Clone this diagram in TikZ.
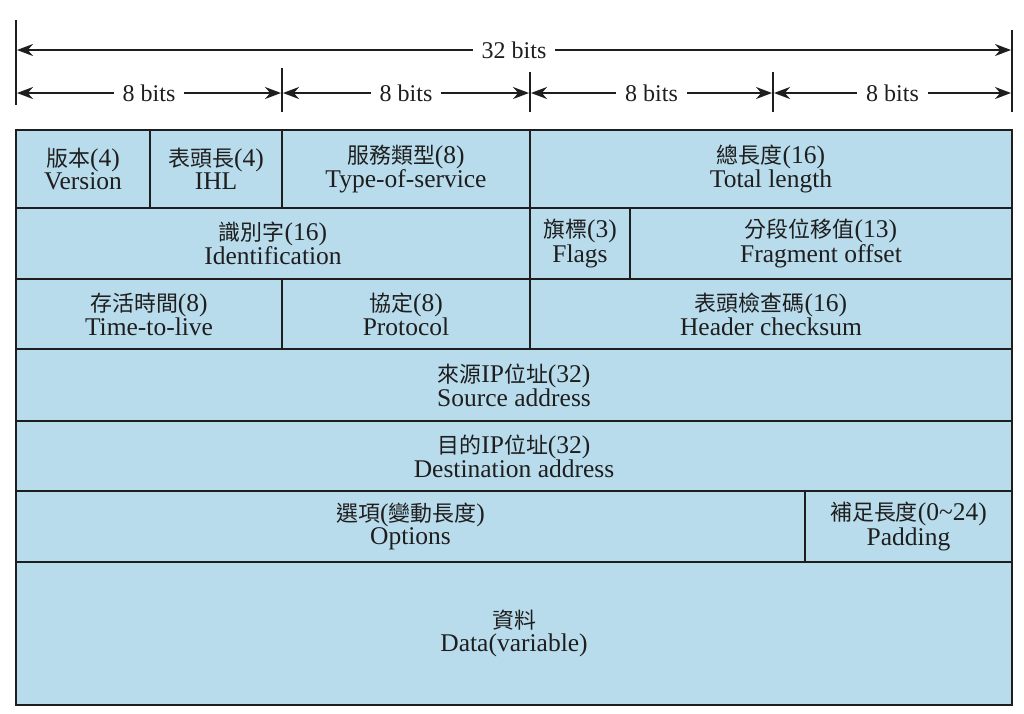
\documentclass[tikz,border=0pt]{standalone}
\usepackage{fontspec}
\setmainfont{Liberation Serif}
\newfontfamily\cjk{Noto Sans CJK TC}[Scale=0.86]
\usetikzlibrary{arrows.meta}
\definecolor{cellblue}{HTML}{B9DCEC}
\definecolor{ink}{HTML}{1E1E1E}
\newcommand{\zh}[1]{{\cjk #1}}
\begin{document}
\begin{tikzpicture}[x=1pt,y=-1pt,
  cell/.style={draw=ink, line width=2.2pt, fill=cellblue, inner sep=0pt, align=center, text=ink, font=\fontsize{25.5}{23}\selectfont},
  tickline/.style={draw=ink, line width=2pt},
  dim/.style={draw=ink, line width=2pt, {Stealth[length=16pt,width=12pt]}-{Stealth[length=16pt,width=12pt]}},
  dimlbl/.style={fill=white, inner xsep=9pt, inner ysep=2pt, text=ink, font=\fontsize{24}{24}\selectfont}]
\useasboundingbox[fill=white] (0,0) rectangle (1024,713);

% dimension ticks
\coordinate (k0a) at (16,20);  \coordinate (k0b) at (16,105);
\coordinate (k1a) at (282,68); \coordinate (k1b) at (282,112);
\coordinate (k2a) at (530,72); \coordinate (k2b) at (530,112);
\coordinate (k3a) at (773,72); \coordinate (k3b) at (773,112);
\coordinate (k4a) at (1012,30);\coordinate (k4b) at (1012,112);
\draw[tickline] (k0a) -- (k0b);
\draw[tickline] (k1a) -- (k1b);
\draw[tickline] (k2a) -- (k2b);
\draw[tickline] (k3a) -- (k3b);
\draw[tickline] (k4a) -- (k4b);

\coordinate (t0) at (17,50);  \coordinate (t1) at (1011,50);
\draw[dim] (t0) -- node[dimlbl] (b32) {32 bits} (t1);
\coordinate (a0) at (17,93);  \coordinate (a1l) at (281,93);
\coordinate (a1r) at (283,93); \coordinate (a2l) at (529,93);
\coordinate (a2r) at (531,93); \coordinate (a3l) at (772,93);
\coordinate (a3r) at (774,93); \coordinate (a4) at (1011,93);
\draw[dim] (a0) -- node[dimlbl] (b8a) {8 bits} (a1l);
\draw[dim] (a1r) -- node[dimlbl] (b8b) {8 bits} (a2l);
\draw[dim] (a2r) -- node[dimlbl] (b8c) {8 bits} (a3l);
\draw[dim] (a3r) -- node[dimlbl] (b8d) {8 bits} (a4);

% row 1
\node[cell, minimum width=134pt, minimum height=78pt] (ver) at (83,169) {\zh{版本}(4)\\Version};
\node[cell, minimum width=132pt, minimum height=78pt] (ihl) at (216,169) {\zh{表頭長}(4)\\IHL};
\node[cell, minimum width=248pt, minimum height=78pt] (tos) at (406,169) {\zh{服務類型}(8)\\Type-of-service};
\node[cell, minimum width=482pt, minimum height=78pt] (tlen) at (771,169) {\zh{總長度}(16)\\Total length};
% row 2
\node[cell, minimum width=514pt, minimum height=71pt] (ident) at (273,243.5) {\zh{識別字}(16)\\Identification};
\node[cell, minimum width=100pt, minimum height=71pt] (flags) at (580,243.5) {\zh{旗標}(3)\\Flags};
\node[cell, minimum width=382pt, minimum height=71pt] (frag) at (821,243.5) {\zh{分段位移值}(13)\\Fragment offset};
% row 3
\node[cell, minimum width=266pt, minimum height=70pt] (ttl) at (149,314) {\zh{存活時間}(8)\\Time-to-live};
\node[cell, minimum width=248pt, minimum height=70pt] (proto) at (406,314) {\zh{協定}(8)\\Protocol};
\node[cell, minimum width=482pt, minimum height=70pt] (csum) at (771,314) {\zh{表頭檢查碼}(16)\\Header checksum};
% row 4
\node[cell, minimum width=996pt, minimum height=72pt] (src) at (514,385) {\zh{來源}IP\zh{位址}(32)\\Source address};
% row 5
\node[cell, minimum width=996pt, minimum height=70pt] (dst) at (514,456) {\zh{目的}IP\zh{位址}(32)\\Destination address};
% row 6
\node[cell, minimum width=789pt, minimum height=71pt] (opt) at (410.5,526.5) {\zh{選項}(\zh{變動長度})\\Options};
\node[cell, minimum width=207pt, minimum height=71pt] (pad) at (908.5,526.5) {\zh{補足長度}(0\textasciitilde 24)\\Padding};
% row 7
\node[cell, minimum width=996pt, minimum height=143pt] (data) at (514,633.5) {\zh{資料}\\Data(variable)};
\end{tikzpicture}
\end{document}
